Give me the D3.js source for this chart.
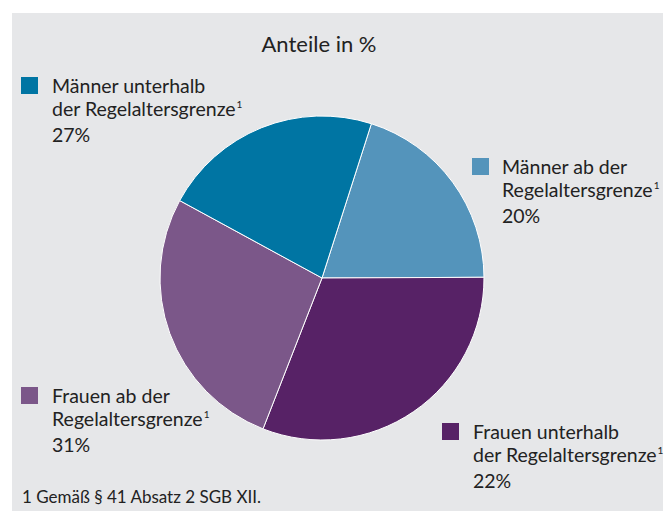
<!DOCTYPE html>
<html>
<head>
<meta charset="utf-8">
<script src="https://cdn.jsdelivr.net/npm/d3@7"></script>
<style>
  body { margin: 0; background: #fff; }
  svg text { font-family: Lato, "Noto Sans", sans-serif; fill: #222; }
</style>
</head>
<body>
<div id="chart"></div>
<script>
// slice sizes as drawn (clockwise from ~18deg), and the labels printed beside them
const groups = ["Männer ab der Regelaltersgrenze", "Frauen unterhalb der Regelaltersgrenze", "Frauen ab der Regelaltersgrenze", "Männer unterhalb der Regelaltersgrenze"];
const shares = [20, 31, 27, 22];
const labelLines = [
  ["Männer ab der", "Regelaltersgrenze", "20%"],
  ["Frauen unterhalb", "der Regelaltersgrenze", "22%"],
  ["Frauen ab der", "Regelaltersgrenze", "31%"],
  ["Männer unterhalb", "der Regelaltersgrenze", "27%"]
];
const colors = ["#5494bb", "#572266", "#7b5789", "#0075a3"];

const width = 666, height = 511;
const cx = 322, cy = 278, r = 162;

const svg = d3.select("#chart").append("svg")
  .attr("width", width).attr("height", height);

// grey panel
svg.append("rect")
  .attr("x", 12).attr("y", 13)
  .attr("width", 651).attr("height", height - 13)
  .attr("fill", "#e6e7e9");

svg.append("text")
  .attr("x", 319).attr("y", 52)
  .attr("text-anchor", "middle")
  .attr("font-size", 22)
  .text("Anteile in %");

let pie = d3.pie().sort(null)
  .startAngle(17.75 * Math.PI / 180)
  .endAngle(17.75 * Math.PI / 180 + 2 * Math.PI);

let arc = d3.arc().innerRadius(0).outerRadius(r);

svg.append("g")
  .attr("transform", `translate(${cx},${cy})`)
  .selectAll("path")
  .data(pie(shares))
  .join("path")
  .attr("d", arc)
  .attr("fill", (d, i) => colors[i])
  .attr("stroke", "#fff")
  .attr("stroke-width", 1);

// legend boxes placed around the pie
const legendPos = [
  {x: 472, y: 158, tx: 502},
  {x: 442, y: 423, tx: 473},
  {x: 21, y: 387, tx: 52},
  {x: 21, y: 77, tx: 52}
];
const lineOffsets = [0, 23, 49];

legendPos.forEach((p, i) => {
  let g = svg.append("g");
  g.append("rect")
    .attr("x", p.x).attr("y", p.y)
    .attr("width", 17).attr("height", 17)
    .attr("fill", colors[i]);
  labelLines[i].forEach((line, j) => {
    let t = g.append("text")
      .attr("x", p.tx).attr("y", p.y + 16 + lineOffsets[j])
      .attr("font-size", 19.5)
      .text(line);
    if (j == 1) {
      t.append("tspan")
        .attr("font-size", 10)
        .attr("dx", 1)
        .attr("dy", -8)
        .text("1");
    }
  });
});

svg.append("text")
  .attr("x", 22).attr("y", 503)
  .attr("font-size", 17)
  .text("1 Gemäß § 41 Absatz 2 SGB XII.");
</script>
</body>
</html>
